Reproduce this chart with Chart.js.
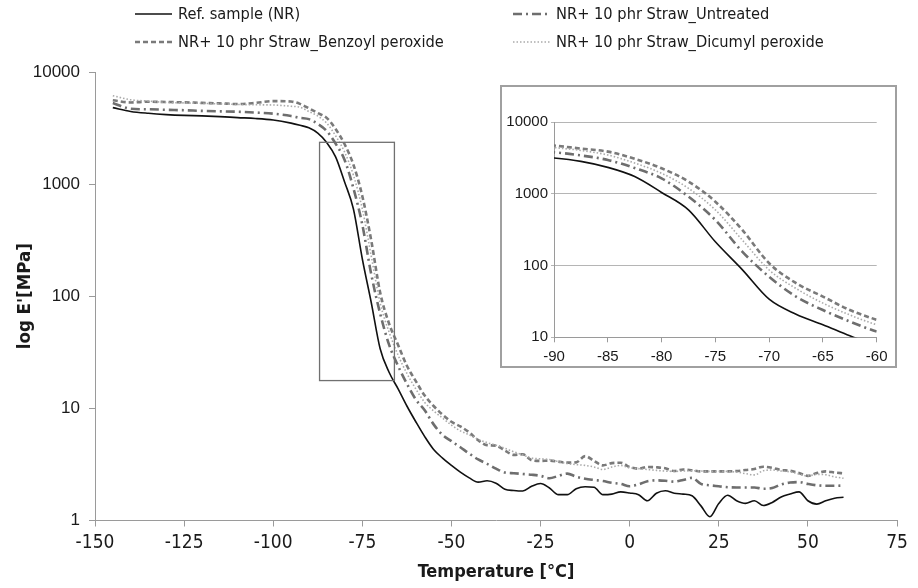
<!DOCTYPE html>
<html>
<head>
<meta charset="utf-8">
<script src="https://cdn.jsdelivr.net/npm/chart.js@4.4.1/dist/chart.umd.min.js"></script>
<style>
  body{margin:0;background:#fff;}
  #wrap{position:relative;width:918px;height:588px;}
  canvas{display:block;}
  #inset{position:absolute;left:500px;top:85px;width:397px;height:283px;box-sizing:border-box;border:2px solid #a0a0a0;background:#fff;}
</style>
</head>
<body>
<div id="wrap">
  <canvas id="mainChart" width="918" height="588"></canvas>
  <div id="inset"><canvas id="insetChart" width="393" height="279"></canvas></div>
</div>
<script>
// temperature [°C]
const temps = [
  -145, -140, -135, -130, -125, -120, -115, -110, -105, -100, -95,
  -92.5, -90, -87.5, -85, -82.5, -80, -77.5, -75, -72.5, -70,
  -67.5, -65, -62.5, -60, -57.5, -55, -52.5, -50, -47.5, -45,
  -42.5, -40, -37.5, -35, -32.5, -30, -27.5, -25, -22.5, -20,
  -17.5, -15, -12.5, -10, -7.5, -5, -2.5, 0, 2.5, 5,
  7.5, 10, 12.5, 15, 17.5, 20, 22.5, 25, 27.5, 30,
  32.5, 35, 37.5, 40, 42.5, 45, 47.5, 50, 52.5, 55,
  57.5, 60
];

// E' [MPa]
const refNR = [
  4810, 4450, 4280, 4170, 4100, 4060, 4000, 3920, 3850, 3730, 3500,
  3350, 3180, 2850, 2350, 1750, 1050, 600, 215, 88, 34,
  21, 15, 10.5, 7.6, 5.6, 4.3, 3.6, 3.1, 2.7, 2.4,
  2.2, 2.26, 2.15, 1.9, 1.85, 1.83, 2.02, 2.14, 1.95, 1.7,
  1.7, 1.92, 2.0, 1.98, 1.7, 1.72, 1.8, 1.76, 1.7, 1.5,
  1.75, 1.84, 1.75, 1.72, 1.66, 1.35, 1.08, 1.42, 1.68, 1.5,
  1.42, 1.5, 1.36, 1.45, 1.62, 1.72, 1.8, 1.5, 1.4, 1.5,
  1.58, 1.61
];
const untreated = [
  5300, 4700, 4650, 4600, 4560, 4500, 4460, 4420, 4350, 4250, 4050,
  3900, 3800, 3450, 2980, 2300, 1650, 918, 434, 157, 70,
  37, 24, 16.6, 12, 9.6, 7.2, 5.8, 5.1, 4.5, 3.95,
  3.5, 3.2, 2.9, 2.68, 2.64, 2.6, 2.56, 2.5, 2.38, 2.5,
  2.62, 2.46, 2.36, 2.3, 2.25, 2.17, 2.12, 2.02, 2.1, 2.24,
  2.28, 2.26, 2.22, 2.3, 2.4, 2.12, 2.06, 2.02, 1.98, 1.97,
  1.97, 1.97, 1.92, 1.95, 2.1, 2.18, 2.2, 2.12, 2.06, 2.04,
  2.04, 2.05
];
const benzoyl = [
  5600, 5350, 5430, 5400, 5360, 5300, 5250, 5180, 5300, 5500, 5450,
  5200, 4750, 4300, 3900, 3100, 2280, 1490, 780, 315, 108,
  57, 37, 24, 17.5, 13, 10.5, 8.8, 7.6, 6.9, 6.1,
  5.2, 4.7, 4.65, 4.2, 3.85, 3.9, 3.45, 3.4, 3.42, 3.35,
  3.28, 3.3, 3.75, 3.4, 3.1, 3.25, 3.27, 3.0, 2.9, 3.0,
  2.98, 2.92, 2.76, 2.85, 2.8, 2.74, 2.74, 2.74, 2.74, 2.76,
  2.82, 2.88, 3.02, 2.95, 2.82, 2.78, 2.65, 2.5, 2.65, 2.74,
  2.68, 2.63
];
const dicumyl = [
  6150, 5650, 5500, 5350, 5300, 5250, 5200, 5140, 5100, 5080, 4950,
  4850, 4440, 4050, 3500, 2700, 1940, 1200, 600, 228, 87,
  48, 30, 20.5, 14.9, 11.3, 9.5, 8.2, 7.1, 6.3, 5.8,
  5.3, 4.95, 4.7, 4.4, 4.1, 3.85, 3.6, 3.55, 3.5, 3.35,
  3.22, 3.15, 3.1, 3.0, 2.85, 3.0, 3.1, 2.95, 2.9, 2.85,
  2.8, 2.76, 2.74, 2.76, 2.78, 2.76, 2.74, 2.74, 2.74, 2.7,
  2.62, 2.55, 2.78, 2.82, 2.76, 2.72, 2.6, 2.5, 2.58, 2.56,
  2.45, 2.38
];

const seriesNames = [
  'Ref. sample (NR)',
  'NR+ 10 phr Straw_Untreated',
  'NR+ 10 phr Straw_Benzoyl peroxide',
  'NR+ 10 phr Straw_Dicumyl peroxide'
];
const xTicksMain = [-150, -125, -100, -75, -50, -25, 0, 25, 50, 75];
const yTicksMain = [1, 10, 100, 1000, 10000];
const xTicksInset = [-90, -85, -80, -75, -70, -65, -60];
const yTicksInset = [10, 100, 1000, 10000];
// zoomed region marked on the main chart
const boxTemps = [-87, -66];
const boxModulus = [17.7, 2360];

const narrow = "'Liberation Sans Narrow', 'DejaVu Sans Condensed', sans-serif";
const plain = "'Liberation Sans', Arial, sans-serif";

const styles = [
  {color: '#111111', width: 1.6, dash: []},
  {color: '#6e6e6e', width: 2.6, dash: [9, 4, 2, 4]},
  {color: '#7a7a7a', width: 2.6, dash: [5, 3]},
  {color: '#aaaaaa', width: 1.6, dash: [1.5, 2]}
];

function makeData(){
  const vals = [refNR, untreated, benzoyl, dicumyl];
  return {
    labels: temps,
    datasets: vals.map((v, i) => ({
      label: seriesNames[i],
      data: temps.map((t, j) => ({x: t, y: v[j]})),
      borderColor: styles[i].color,
      borderWidth: styles[i].width,
      borderDash: styles[i].dash,
      pointRadius: 0,
      fill: false,
      cubicInterpolationMode: 'monotone'
    })).reverse()
  };
}

const zoomBox = {
  id: 'zoomBox',
  afterDatasetsDraw(chart){
    const {ctx, scales: {x, y}} = chart;
    const x1 = x.getPixelForValue(boxTemps[0]), x2 = x.getPixelForValue(boxTemps[1]);
    const y1 = y.getPixelForValue(boxModulus[1]), y2 = y.getPixelForValue(boxModulus[0]);
    ctx.save();
    ctx.strokeStyle = '#707070';
    ctx.lineWidth = 1.3;
    ctx.strokeRect(x1, y1, x2 - x1, y2 - y1);
    ctx.restore();
  }
};

const topLegend = {
  id: 'topLegend',
  afterDraw(chart){
    const ctx = chart.ctx;
    const pos = [[135, 14], [513, 14], [135, 42], [513, 42]];
    ctx.save();
    ctx.font = '16.3px ' + narrow;
    ctx.textBaseline = 'middle';
    ctx.fillStyle = '#1a1a1a';
    seriesNames.forEach((name, i) => {
      const [px, py] = pos[i];
      ctx.strokeStyle = styles[i].color;
      ctx.lineWidth = styles[i].width;
      ctx.setLineDash(styles[i].dash);
      ctx.beginPath();
      ctx.moveTo(px, py);
      ctx.lineTo(px + 37, py);
      ctx.stroke();
      ctx.fillText(name, px + 43, py + 1);
    });
    ctx.restore();
  }
};

new Chart(document.getElementById('mainChart'), {
  type: 'line',
  data: makeData(),
  options: {
    responsive: false,
    animation: false,
    layout: {padding: {left: 0, right: 21, top: 72, bottom: 0}},
    plugins: {legend: {display: false}, tooltip: {enabled: false}},
    scales: {
      x: {
        type: 'linear', min: -150, max: 75,
        afterBuildTicks: s => { s.ticks = xTicksMain.map(v => ({value: v})); },
        afterFit: s => { s.height = 67.5; },
        grid: {drawOnChartArea: false, tickLength: 6, color: '#9a9a9a'},
        border: {color: '#9a9a9a'},
        ticks: {padding: 5, color: '#1a1a1a', font: {family: narrow, size: 19}, maxRotation: 0},
        title: {display: true, text: 'Temperature [°C]', color: '#1a1a1a',
                font: {family: narrow, size: 18, weight: 'bold'}, padding: {top: 0, bottom: 5}}
      },
      y: {
        type: 'logarithmic', min: 1, max: 10000,
        afterBuildTicks: s => { s.ticks = yTicksMain.map(v => ({value: v})); },
        afterFit: s => { s.width = 95; },
        grid: {drawOnChartArea: false, tickLength: 6, color: '#9a9a9a'},
        border: {color: '#9a9a9a'},
        ticks: {padding: 9, color: '#1a1a1a', font: {family: plain, size: 17}, callback: v => String(v)},
        title: {display: true, text: "log E'[MPa]", color: '#1a1a1a',
                font: {family: narrow, size: 18.5, weight: 'bold'}, padding: {top: 14, bottom: 0}}
      }
    }
  },
  plugins: [zoomBox, topLegend]
});

new Chart(document.getElementById('insetChart'), {
  type: 'line',
  data: makeData(),
  options: {
    responsive: false,
    animation: false,
    layout: {padding: {left: 0, right: 18.3, top: 35.3, bottom: 0}},
    plugins: {legend: {display: false}, tooltip: {enabled: false}},
    scales: {
      x: {
        type: 'linear', min: -90, max: -60,
        afterBuildTicks: s => { s.ticks = xTicksInset.map(v => ({value: v})); },
        afterFit: s => { s.height = 28.7; },
        grid: {drawOnChartArea: false, tickLength: 5, color: '#9a9a9a'},
        border: {color: '#9a9a9a'},
        ticks: {padding: 6, color: '#1a1a1a', font: {family: plain, size: 15}, maxRotation: 0}
      },
      y: {
        type: 'logarithmic', min: 10, max: 10000,
        afterBuildTicks: s => { s.ticks = yTicksInset.map(v => ({value: v})); },
        afterFit: s => { s.width = 52; },
        grid: {tickLength: 3, color: '#b5b5b5'},
        border: {color: '#9a9a9a'},
        ticks: {padding: 3, color: '#1a1a1a', font: {family: plain, size: 15}, callback: v => String(v)}
      }
    }
  }
});
</script>
</body>
</html>
